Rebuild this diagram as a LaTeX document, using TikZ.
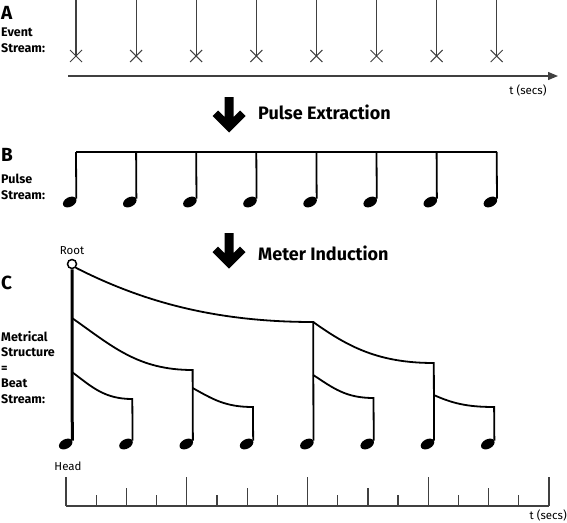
\documentclass[tikz,border=0pt]{standalone}
\usepackage{fontspec}
\setmainfont{Fira Sans}
\usetikzlibrary{arrows.meta, shapes.geometric, shapes.misc, positioning}

\begin{document}
\begin{tikzpicture}[x=1pt, y=-1pt]
    \tikzstyle{panel} = [font=\bfseries\fontsize{19}{19}\selectfont, anchor=west, inner sep=0pt]
    \tikzstyle{side} = [font=\bfseries\fontsize{12.5}{15.5}\selectfont, align=left, anchor=north west, inner sep=0pt]
    \tikzstyle{stage} = [font=\bfseries\fontsize{18}{18}\selectfont, anchor=west, inner sep=0pt]
    \tikzstyle{small} = [font=\fontsize{11.5}{11.5}\selectfont, inner sep=0pt]
    \tikzstyle{gline} = [draw=black!75, line width=1.2pt]
    \tikzstyle{event} = [draw=black!75, cross out, minimum size=11pt, inner sep=0pt, line width=1pt]
    \tikzstyle{stem} = [draw, line width=1.8pt]
    \tikzstyle{link} = [draw, line width=1.8pt]
    \tikzstyle{head} = [ellipse, fill, minimum width=14.5pt, minimum height=9.5pt, inner sep=0pt, rotate=28]
    \tikzset{bigdown/.pic={\fill (-4.5,0) -- (4.5,0) -- (4.5,20) -- (11,13.5) -- (16.5,19) -- (0,35.5) -- (-16.5,19) -- (-11,13.5) -- (-4.5,20) -- cycle;}}

    \useasboundingbox (0,0) rectangle (567,522);

    % A: event stream
    \node [panel] (pA) at (1,13) {A};
    \node [side] (sA) at (1,28) {Event\\Stream:};
    \foreach \i in {0,...,7} {
        \coordinate (top\i) at (76+60.1*\i, 0);
        \node [event] (ev\i) at (76+60.1*\i, 56) {};
        \draw [gline] (top\i) -- (ev\i.center);
    }
    \coordinate (ta0) at (68,76);
    \coordinate (ta1) at (558,76);
    \draw [gline, -{Triangle[length=10pt, width=8pt]}] (ta0) -- (ta1);
    \node [small] (tsA) at (528,90) {t (secs)};

    \pic at (229,97) {bigdown};
    \node [stage] (pe) at (258,112) {Pulse Extraction};

    % B: pulse stream
    \node [panel] (pB) at (1,155) {B};
    \node [side] (sB) at (1,174) {Pulse\\Stream:};
    \foreach \i in {0,...,7} {
        \coordinate (bt\i) at (76+60.1*\i, 152);
        \node [head] (hb\i) at (76+60.1*\i-6.3, 202) {};
        \draw [stem] (bt\i) -- (hb\i.east);
    }
    \draw [stem, line cap=square] (bt0) -- (bt7);

    \pic at (229,233) {bigdown};
    \node [stage] (mi) at (258,253) {Meter Induction};

    % C: metrical structure
    \node [panel] (pC) at (1,283) {C};
    \node [side] (sC) at (1,331) {Metrical\\Structure\\=\\Beat\\Stream:};
    \node [draw, circle, line width=1.5pt, minimum size=9pt, inner sep=0pt] (root) at (72,264) {};
    \node [small, above=4pt of root] (rl) {Root};
    \foreach \i in {0,...,7} {
        \node [head] (hc\i) at (72+60.3*\i-6.3, 444) {};
    }
    \foreach \i/\y in {1/399, 2/370, 3/407, 4/322, 5/398, 6/363, 7/407} {
        \coordinate (k\i) at (72+60.3*\i, \y);
    }
    \coordinate (j0a) at (72,318);
    \coordinate (j0b) at (72,372);
    \coordinate (j2) at (k2 |- 0,388);
    \coordinate (j4) at (k4 |- 0,375);
    \coordinate (j6) at (k6 |- 0,395);

    \draw [stem, line width=3pt] (root) -- (hc0.east);
    \draw [link] (root.south east) .. controls +(65,33) and +(-100,0) .. (k4) -- (hc4.east);
    \draw [link] (j0a) .. controls +(40,28) and +(-55,0) .. (k2) -- (hc2.east);
    \draw [link] (k4) .. controls +(35,25) and +(-55,0) .. (k6) -- (hc6.east);
    \draw [link] (j0b) .. controls +(20,15) and +(-28,0) .. (k1) -- (hc1.east);
    \draw [link] (j2) .. controls +(20,11) and +(-28,0) .. (k3) -- (hc3.east);
    \draw [link] (j4) .. controls +(20,13) and +(-28,0) .. (k5) -- (hc5.east);
    \draw [link] (j6) .. controls +(18,8) and +(-28,0) .. (k7) -- (hc7.east);

    % time axis
    \node [small] (hd) at (68,466) {Head};
    \coordinate (tb0) at (66,506);
    \coordinate (tb1) at (549,506);
    \draw [gline] (tb0) -- (tb1);
    \foreach \k in {0,...,16} {
        \pgfmathsetmacro{\tick}{mod(\k,4)==0 ? 29 : (mod(\k,2)==0 ? 18 : 11)}
        \draw [gline] (66+30.19*\k, 506) -- ++(0,-\tick);
    }
    \node [small, anchor=east] (tsB) at (567,515) {t (secs)};
\end{tikzpicture}
\end{document}
